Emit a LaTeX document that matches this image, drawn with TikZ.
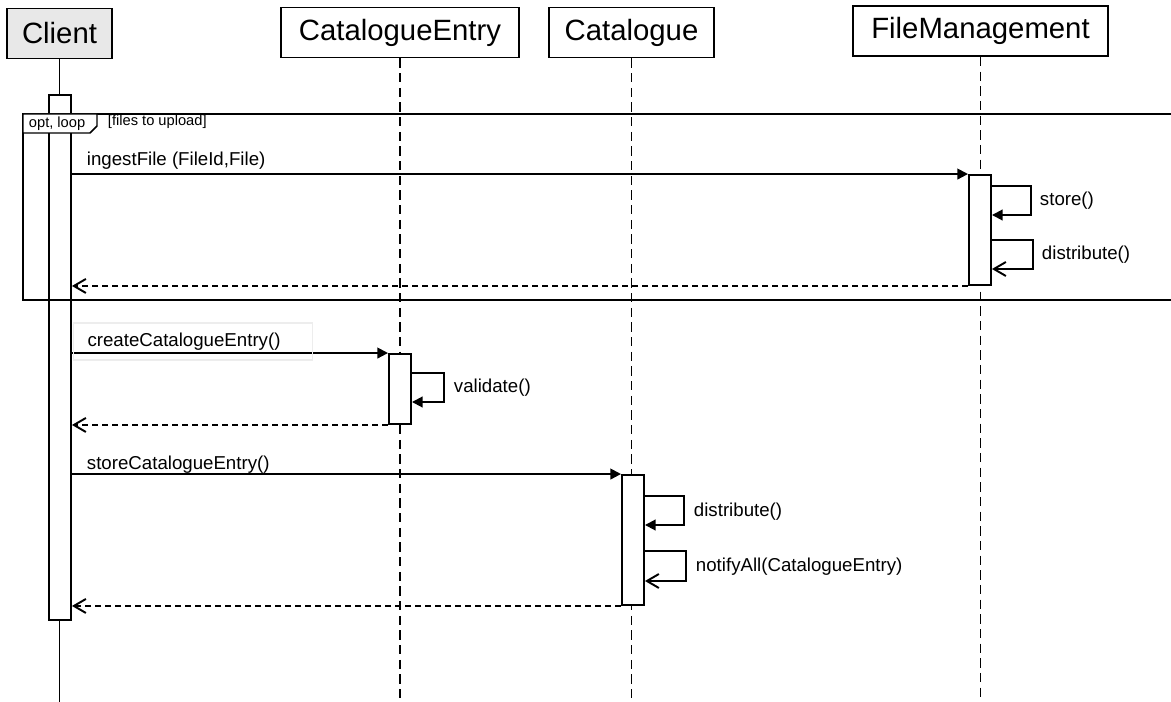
\documentclass[tikz,border=0pt]{standalone}
\usepackage{fontspec}
\setmainfont{Liberation Sans}
\usetikzlibrary{arrows.meta,fit}

\begin{document}
\begin{tikzpicture}[x=0.75pt,y=-0.75pt,line width=1.45pt,
		head/.style={draw,minimum height=37.5pt,inner sep=0pt,font=\fontsize{22}{26}\selectfont},
		act/.style={draw,fill=white,inner sep=0pt},
		life/.style={dash pattern=on 7pt off 4pt},
		msg/.style={anchor=west,inner sep=0pt,font=\fontsize{14}{16}\selectfont},
		call/.style={-{Triangle[length=8pt,width=8pt]}},
		back/.style={-{Straight Barb[length=9pt,width=10.5pt]}},
		reply/.style={back,dash pattern=on 4.5pt off 3pt}]
		\useasboundingbox (0,0) rectangle (1171,702);

		% objects and their lifelines
		\node [head,fill=black!9,minimum width=79pt] (client) at (59.5,33.5) {Client};
		\node [head,minimum width=178.5pt] (entry) at (400,32.5) {CatalogueEntry};
		\node [head,minimum width=124pt] (catalogue) at (631.5,32.5) {Catalogue};
		\node [head,minimum width=191pt] (files) at (980.5,31) {FileManagement};
		\draw (client) -- (client |- 0,702);
		\draw [life] (entry) -- (entry |- 0,702);
		\draw [life] (catalogue) -- (catalogue |- 0,702);
		\draw [life] (files) -- (files |- 0,702);

		% activations
		\node [act,fit={(49,95) (71,620)}] (actC) {};
		\node [act,fit={(969,175) (991,285)}] (actF) {};
		\node [act,fit={(389,354) (411,424)}] (actE) {};
		\node [act,fit={(622,475) (644,605)}] (actK) {};

		% opt/loop fragment
		\draw (1173,114) -| (23,300) -- (1173,300);
		\draw [fill=white,line width=1.1pt] (23,114) -- (97,114) -- (97,126) -- (90,133) -- (23,133) -- cycle;
		\node [anchor=west,inner sep=0pt,font=\fontsize{11}{13}\selectfont] (optL) at (28,123.5) {opt, loop};
		\node [anchor=west,inner sep=0pt,font=\fontsize{11}{13}\selectfont] (guardL) at (107,121.5) {[files to upload]};

		% ingest
		\draw [call] (actC.east |- actF.north) -- (actF.north west);
		\node [msg] (ingestL) at (86,161) {ingestFile (FileId,File)};
		\draw [call] (actF.east |- 0,186) -- ++(39,0) |- (actF.east |- 0,215);
		\node [msg] (storeL) at (1039,201) {store()};
		\draw [back] (actF.east |- 0,240) -- ++(41,0) |- (actF.east |- 0,269);
		\node [msg] (distL) at (1041,255) {distribute()};
		\draw [reply] (actF.south west) -- (actC.east |- actF.south);

		% create entry
		\draw [call] (actC.east |- actE.north) -- (actE.north west);
		\node [msg,draw=black!7,line width=0.8pt,inner xsep=10.5pt,text width=158pt,minimum height=27.75pt,align=left] (createL) at (73,341.5) {createCatalogueEntry()};
		\draw [call] (actE.east |- 0,373) -- ++(32,0) |- (actE.east |- 0,402);
		\node [msg] (validL) at (453,388) {validate()};
		\draw [reply] (actE.south west) -- (actC.east |- actE.south);

		% store entry
		\draw [call] (actC.east |- actK.north) -- (actK.north west);
		\node [msg] (storeCL) at (86,465) {storeCatalogueEntry()};
		\draw [call] (actK.east |- 0,496) -- ++(39,0) |- (actK.east |- 0,525);
		\node [msg] (distCL) at (693,511.5) {distribute()};
		\draw [back] (actK.east |- 0,551) -- ++(41,0) |- (actK.east |- 0,581);
		\node [msg] (notifyL) at (695,567) {notifyAll(CatalogueEntry)};
		\draw [reply] (actK.south west) -- (actC.east |- actK.south);
	\end{tikzpicture}
\end{document}
